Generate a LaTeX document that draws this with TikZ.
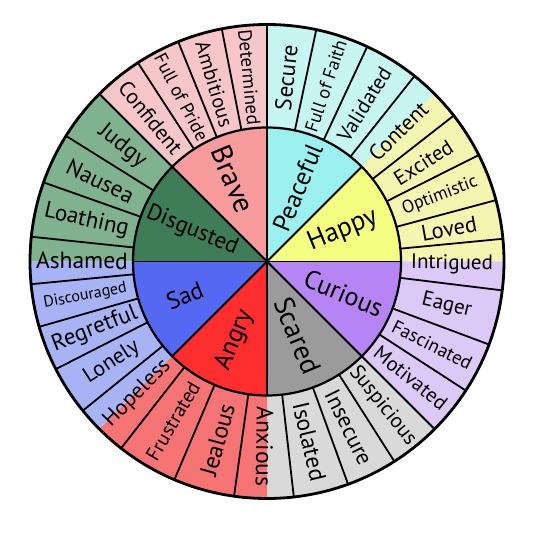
\documentclass[tikz,border=0pt]{standalone}
\usepackage{fontspec}
\setmainfont{PT Sans}
\usetikzlibrary{calc}
\definecolor{PeaceIn}{HTML}{9DF0F0}
\definecolor{PeaceOut}{HTML}{C6F5F2}
\definecolor{HappyIn}{HTML}{F4FF82}
\definecolor{HappyOut}{HTML}{F3F5B1}
\definecolor{CuriousIn}{HTML}{B784F5}
\definecolor{CuriousOut}{HTML}{DCC9F7}
\definecolor{ScaredIn}{HTML}{9B9B9B}
\definecolor{ScaredOut}{HTML}{D9D9D9}
\definecolor{AngryIn}{HTML}{FF2E2E}
\definecolor{AngryOut}{HTML}{F77474}
\definecolor{SadIn}{HTML}{5568F2}
\definecolor{SadOut}{HTML}{A7B3F5}
\definecolor{DisgustIn}{HTML}{3E7D57}
\definecolor{DisgustOut}{HTML}{80B290}
\definecolor{BraveIn}{HTML}{F79C9C}
\definecolor{BraveOut}{HTML}{F6C6C8}
\tikzset{
	rim/.style={line width=2.6pt, draw=black},
	spoke/.style={line width=1.8pt, draw=black, line cap=round},
	core/.style={inner sep=0pt},
	leaf/.style={inner sep=0pt}
}

\begin{document}
\begin{tikzpicture}[x=1pt, y=1pt]
	\useasboundingbox (0,0) rectangle (533,533);
	\coordinate (O) at (267,271.5);
	% light outer ring, one colour per feeling
	\foreach \a/\c in {45/PeaceOut, 0/HappyOut, -45/CuriousOut, -90/ScaredOut,
		-135/AngryOut, -180/SadOut, 135/DisgustOut, 90/BraveOut}
	\fill[\c] (O) -- ($(O)+(\a:237)$) arc[start angle=\a, delta angle=45, radius=237] -- cycle;
	% core feelings
	\foreach \a/\c in {45/PeaceIn, 0/HappyIn, -45/CuriousIn, -90/ScaredIn,
		-135/AngryIn, -180/SadIn, 135/DisgustIn, 90/BraveIn}
	\fill[\c] (O) -- ($(O)+(\a:134)$) arc[start angle=\a, delta angle=45, radius=134] -- cycle;
	\foreach \a in {0,45,...,315}
	\draw[spoke] (O) -- ($(O)+(\a:134)$);
	% outer dividers
	\foreach \a in {90,78,65,51.5,38,26.7,15,5.5,-7,-20.5,-33,-45,-57.5,-70,-83.5,
		-98,-113,-128,-141,-153,-164,-174.5,-186,-199.5,-212,-225,-237,-248,-259}
	\draw[spoke] ($(O)+(\a:134)$) -- ($(O)+(\a:237)$);
	\draw[rim, line width=2.2pt] (O) circle[radius=134];
	\draw[rim, line width=2.8pt] (O) circle[radius=237];
	% core labels
	\foreach \m/\t/\s/\d [count=\i] in {67.5/Peaceful/25.5/80, 22.5/Happy/27/82, -22.5/Curious/26/83,
		-67.5/Scared/28/80, -112.5/Angry/25.5/85, -157.5/Sad/24/89, 157.5/Disgusted/23/81,
		112.5/Brave/29/89}
	{
		\pgfmathsetmacro\r{abs(\m)<91 ? \m : \m+180}
		\node[core, rotate=\r, font=\fontsize{\s}{\s}\selectfont] (core-\i) at ($(O)+(\m:\d)$) {\t};
	}
	% outer labels
	\foreach \a/\b/\t/\s [count=\i] in {90/78/Secure/23, 78/65/Full of Faith/18.5,
		65/51.5/Validated/21, 51.5/38/Content/22, 38/26.7/Excited/21,
		26.7/15/Optimistic/18, 15/5.5/Loved/22.5, 5.5/-7/Intrigued/21,
		-7/-20.5/Eager/21, -20.5/-33/Fascinated/19, -33/-45/Motivated/20.5,
		-45/-57.5/Suspicious/21, -57.5/-70/Insecure/22.5, -70/-83.5/Isolated/23.5,
		-83.5/-98/Anxious/23.5, -98/-113/Jealous/24, -113/-128/Frustrated/20,
		-128/-141/Hopeless/22, -141/-153/Lonely/22, -153/-164/Regretful/23,
		-164/-174.5/Discouraged/16, -174.5/-186/Ashamed/23.5, -186/-199.5/Loathing/23,
		-199.5/-212/Nausea/23, -212/-225/Judgy/23, -225/-237/Confident/21.5,
		-237/-248/Full of Pride/18.5, -248/-259/Ambitious/20.5, -259/-270/Determined/19}
	{
		\pgfmathsetmacro\m{(\a+\b)/2}
		\pgfmathsetmacro\r{\m>-91 ? \m : \m+180}
		\node[leaf, rotate=\r, font=\fontsize{\s}{\s}\selectfont] (feel-\i) at ($(O)+(\m:185)$) {\t};
	}
\end{tikzpicture}
\end{document}
